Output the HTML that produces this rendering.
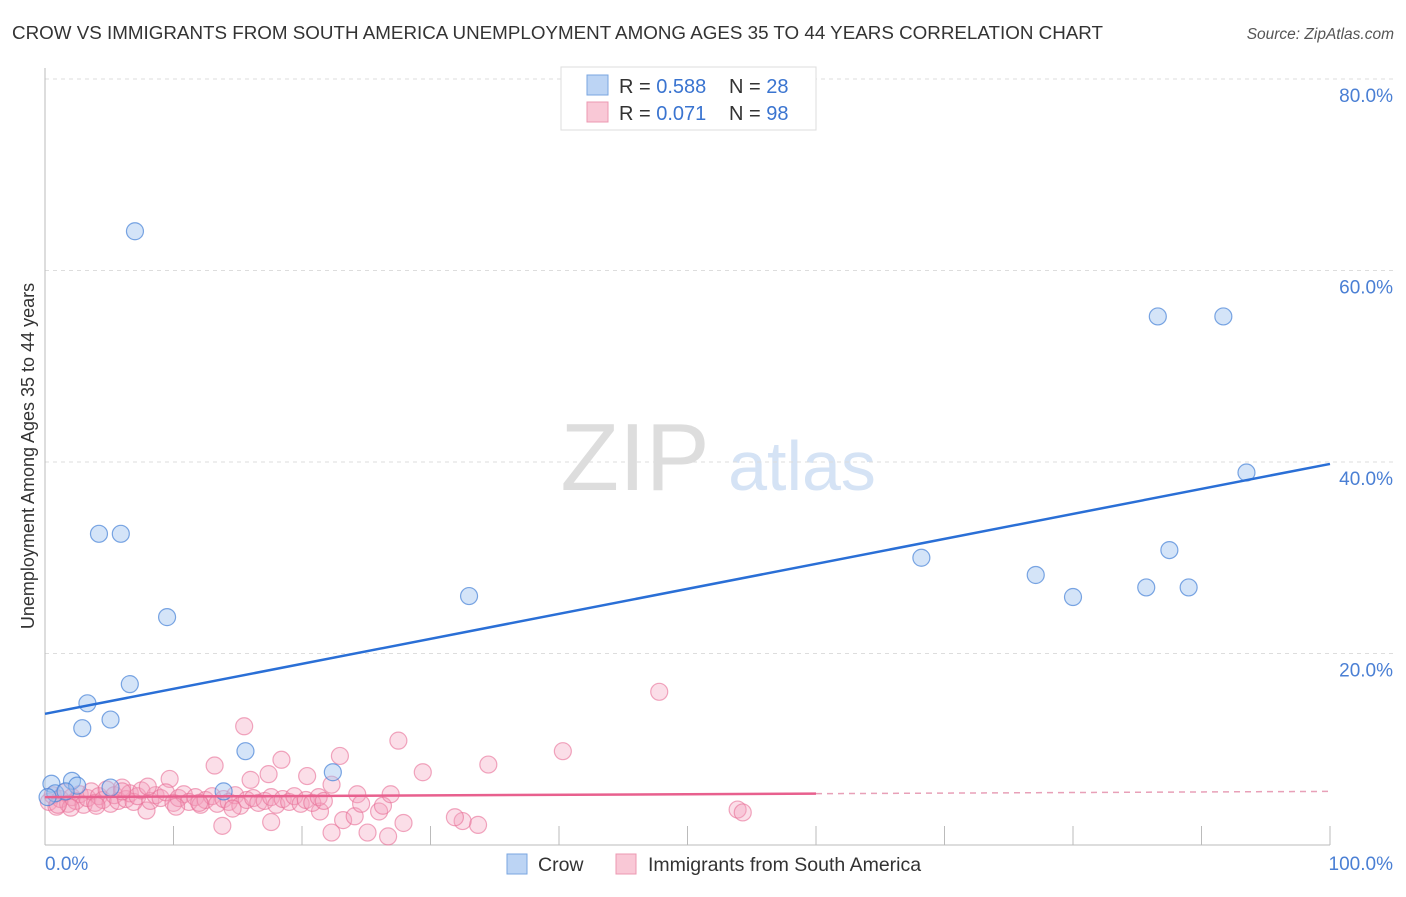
<!DOCTYPE html>
<html><head><meta charset="utf-8"><style>
body{margin:0;background:#fff;font-family:"Liberation Sans",sans-serif;}
svg text{font-family:"Liberation Sans",sans-serif;}
</style></head><body>
<svg id="chart" width="1406" height="892" xmlns="http://www.w3.org/2000/svg">
<text x="12" y="39" font-size="18" fill="#333" textLength="1091" lengthAdjust="spacingAndGlyphs">CROW VS IMMIGRANTS FROM SOUTH AMERICA UNEMPLOYMENT AMONG AGES 35 TO 44 YEARS CORRELATION CHART</text>
<text x="1394" y="39" font-size="15.5" fill="#555" font-style="italic" text-anchor="end">Source: ZipAtlas.com</text>
<g>
<text x="635" y="490" font-size="96" fill="#ddd" font-family="Liberation Serif, serif" text-anchor="middle">ZIP</text>
<text x="802" y="490" font-size="70" fill="#d5e3f5" text-anchor="middle">atlas</text>
</g>
<g id="grid"></g>
<g id="axes"></g>
<g id="pink"></g>
<g id="blue"></g>
<g id="lines"></g>
<text transform="translate(34,456) rotate(-90)" font-size="18" fill="#333" text-anchor="middle">Unemployment Among Ages 35 to 44 years</text>
<text x="45" y="870" font-size="19" fill="#4a7fd4">0.0%</text>
<text x="1393" y="870" font-size="19" fill="#4a7fd4" text-anchor="end">100.0%</text>
<g>
<rect x="561" y="67" width="255" height="63" fill="#fff" stroke="#ddd"/>
<rect x="587" y="75" width="21" height="20" fill="#bcd4f4" stroke="#7aa6e0"/>
<rect x="587" y="102" width="21" height="20" fill="#f9c8d6" stroke="#ec98b2"/>
<text x="619" y="93" font-size="20" fill="#333">R = <tspan fill="#3a74d0">0.588</tspan><tspan x="729">N = </tspan><tspan fill="#3a74d0">28</tspan></text>
<text x="619" y="120" font-size="20" fill="#333">R = <tspan fill="#3a74d0"> 0.071</tspan><tspan x="729">N = </tspan><tspan fill="#3a74d0">98</tspan></text>
</g>
<g>
<rect x="507" y="854" width="20" height="20" fill="#bcd4f4" stroke="#7aa6e0"/>
<text x="538" y="871" font-size="19.5" fill="#333">Crow</text>
<rect x="616" y="854" width="20" height="20" fill="#f9c8d6" stroke="#ec98b2"/>
<text x="648" y="871" font-size="19.5" fill="#333">Immigrants from South America</text>
</g>
</svg>
<script>
const yTicks=[20,40,60,80];
const yTickLabels=["20.0%","40.0%","60.0%","80.0%"];
const xTicks=[0,10,20,30,40,50,60,70,80,90,100];
const crowX=[7.0,4.2,5.9,9.5,6.6,3.3,5.1,2.9,15.6,22.4,33.0,13.9,68.2,77.1,80.0,85.7,87.5,89.0,86.6,91.7,93.5,0.5,2.1,2.5,0.8,1.6,0.2,5.1];
const crowY=[64.1,32.5,32.5,23.8,16.8,14.8,13.1,12.2,9.8,7.6,26.0,5.6,30.0,28.2,25.9,26.9,30.8,26.9,55.2,55.2,38.9,6.4,6.7,6.2,5.4,5.6,5.0,6.0];
const pinkX=[47.8,40.3,34.5,27.5,29.4,22.95,18.4,15.5,13.2,17.4,20.4,9.7,16.0,53.9,54.3,13.8,22.3,25.1,26.7,27.9,33.7,32.5,31.9,23.2,24.1,26.0,17.6,21.4,26.3,26.9,24.3,22.3,24.6,7.9,
0.3,0.6,0.9,1.2,1.5,1.8,2.1,2.4,2.7,3.0,3.3,3.6,3.9,4.2,4.5,4.8,5.1,5.4,5.7,6.0,6.3,6.6,6.9,7.2,7.5,8.2,8.6,9.0,9.4,10.0,10.4,10.8,11.2,11.7,12.1,12.5,13.0,13.4,13.9,14.3,14.8,15.2,15.7,16.2,16.6,17.1,17.6,18.0,18.5,19.0,19.4,19.9,20.3,20.8,21.3,21.7,2.0,4.0,6.0,8.0,10.2,12.0,14.6,1.0];
const pinkY=[16.0,9.8,8.4,10.9,7.6,9.3,8.9,12.4,8.3,7.4,7.2,6.9,6.8,3.7,3.4,2.0,1.3,1.3,0.9,2.3,2.1,2.5,2.9,2.6,3.0,3.5,2.4,3.5,4.1,5.3,5.3,6.3,4.3,3.6,
4.5,5.2,4.0,4.8,5.5,4.3,5.0,4.6,5.3,4.2,4.9,5.6,4.4,5.1,4.7,5.8,4.3,5.2,4.6,6.0,4.8,5.4,4.5,5.1,5.7,4.6,5.2,4.9,5.5,4.4,4.9,5.3,4.5,5.0,4.2,4.7,5.1,4.3,4.8,4.5,5.2,4.1,4.7,4.9,4.4,4.6,5.0,4.2,4.8,4.5,5.1,4.3,4.7,4.4,5.0,4.6,3.9,4.1,5.6,6.1,4.0,4.4,3.8,4.2];
const crowFit=[13.7,39.8];
const pinkFit=[5.0,5.6];
const X0=45,X1=1330,Y0=845,YS=9.575;
const sx=v=>X0+(X1-X0)*v/100, sy=v=>Y0-v*YS;
const NS="http://www.w3.org/2000/svg";
function mk(tag,attrs,parent){const e=document.createElementNS(NS,tag);for(const k in attrs)e.setAttribute(k,attrs[k]);document.getElementById(parent).appendChild(e);return e;}
yTicks.forEach((t,i)=>{
 const g=mk('line',{x1:X0,x2:1393,y1:sy(t),y2:sy(t),stroke:'#ddd','stroke-dasharray':'4,4'},'grid');
 
 
 const tx=mk('text',{x:1393,y:sy(t)+23,'font-size':19,fill:'#4a7fd4','text-anchor':'end'},'grid');
 tx.textContent=yTickLabels[i];
 
 
});
const ax=mk('line',{x1:X0,x2:X0,y1:68,y2:Y0,stroke:'#bbb'},'axes');


const bx=mk('line',{x1:X0,x2:X1,y1:Y0,y2:Y0,stroke:'#bbb'},'axes');


xTicks.slice(1).forEach(t=>{
 const l=mk('line',{x1:sx(t),x2:sx(t),y1:Y0-19,y2:Y0,stroke:'#bbb'},'axes');
 
 
});
pinkX.forEach((x,i)=>{
 const c=mk('circle',{cx:sx(x),cy:sy(pinkY[i]),r:8.5,fill:'rgba(244,160,188,0.35)',stroke:'rgba(232,110,150,0.6)','stroke-width':1.2},'pink');
 
 
});
crowX.forEach((x,i)=>{
 const c=mk('circle',{cx:sx(x),cy:sy(crowY[i]),r:8.5,fill:'rgba(160,195,240,0.45)',stroke:'rgba(70,130,215,0.7)','stroke-width':1.2},'blue');
 
 
});
const cl=mk('line',{x1:sx(0),y1:sy(crowFit[0]),x2:sx(100),y2:sy(crowFit[1]),stroke:'#2a6fd6','stroke-width':2.5},'lines');


const pm=pinkFit[0]+(pinkFit[1]-pinkFit[0])*0.6;
const pl=mk('line',{x1:sx(0),y1:sy(pinkFit[0]),x2:sx(60),y2:sy(pm),stroke:'#e8608e','stroke-width':2.5},'lines');


const pd=mk('line',{x1:sx(60),y1:sy(pm),x2:sx(100),y2:sy(pinkFit[1]),stroke:'#e8a0b8','stroke-width':1.5,'stroke-dasharray':'6,5'},'lines');


</script>
</body></html>
